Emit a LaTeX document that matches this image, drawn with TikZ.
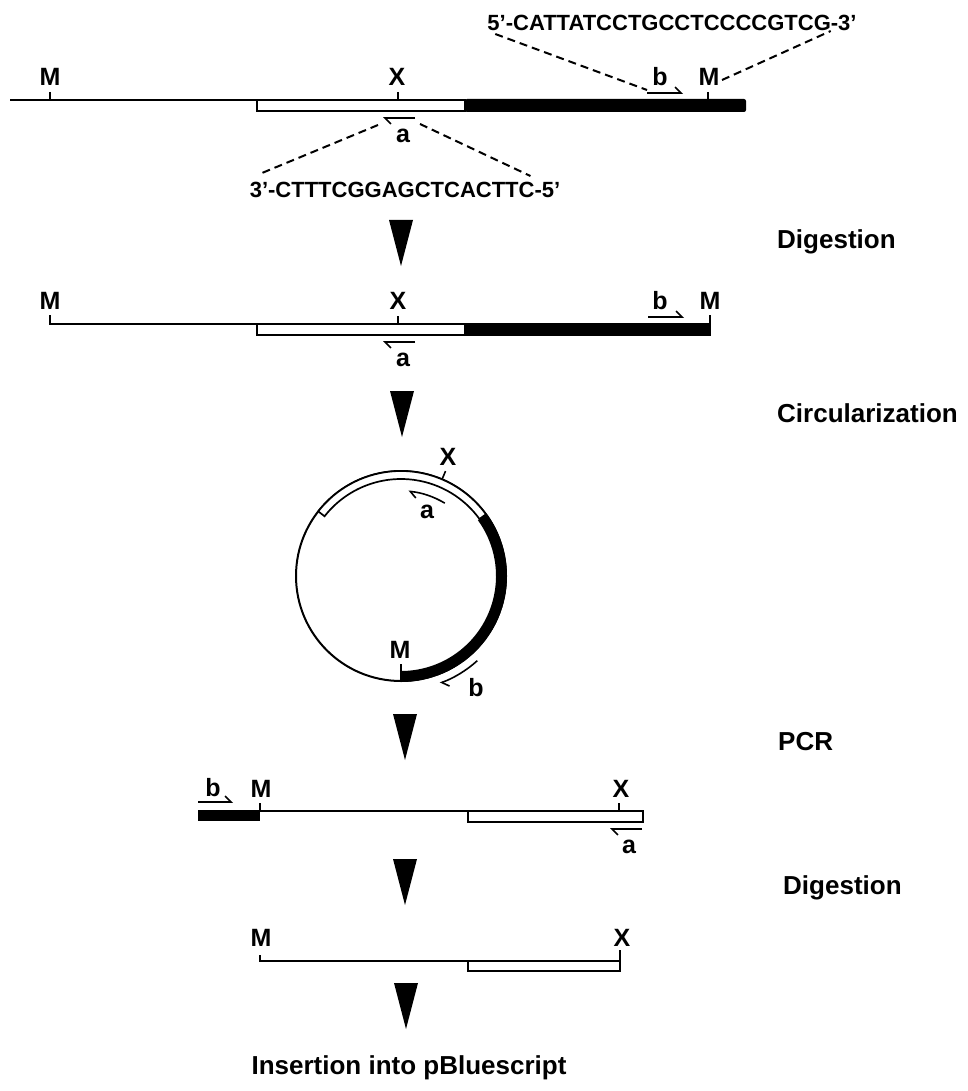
\documentclass[tikz,border=0pt]{standalone}
\usepackage{fontspec}
\setmainfont{Liberation Sans}
\usetikzlibrary{calc,arrows.meta}
\tikzset{
    dna/.style={line width=2pt},
    openseg/.style={line width=1.7pt,fill=white},
    cutsite/.style={line width=1.6pt},
    sitelbl/.style={font=\bfseries\fontsize{25}{25}\selectfont,inner sep=0pt},
    seqlbl/.style={font=\bfseries\fontsize{22}{22}\selectfont,inner sep=0pt},
    steplbl/.style={font=\bfseries\fontsize{26}{26}\selectfont,inner sep=0pt,anchor=west},
    primer/.style={line width=1.6pt,-{Straight Barb[left,length=6pt,width=12pt]}},
    guide/.style={line width=2pt,dash pattern=on 8pt off 5pt}
}
\begin{document}
\begin{tikzpicture}[x=1pt,y=-1pt]
    \useasboundingbox (0,0) rectangle (967,1091);
    % genomic fragment
    \draw[dna] (10,100) -- (465,100);
    \draw[openseg] (257,100) rectangle (465,111);
    \fill[rounded corners=2pt] (465,99) rectangle (746,112);
    \draw[cutsite] (50,92) -- (50,100) (398,92) -- (398,100) (708,92) -- (708,100);
    \node[sitelbl] (m1) at (50,77) {M};
    \node[sitelbl] (x1) at (397,77) {X};
    \node[sitelbl] (m2) at (709,77) {M};
    \node[sitelbl] (b1) at (660,77) {b};
    \node[sitelbl] (a1) at (403,136) {a};
    \draw[primer] (647,93) -- (683,93);
    \draw[primer] (415,118) -- (383,118);
    \node[seqlbl] (seqa) at (405,190) {3'-CTTTCGGAGCTCACTTC-5'};
    \node[seqlbl] (seqb) at (672,23) {5'-CATTATCCTGCCTCCCCGTCG-3'};
    \coordinate (pa1) at (378,125);
    \coordinate (pa2) at (420,124);
    \coordinate (pb1) at (647,90);
    \coordinate (pb2) at (722,80);
    \draw[guide] (pa1) -- ($(seqa.north west)+(10,-8)$);
    \draw[guide] (pa2) -- ($(seqa.north east)+(-30,-6)$);
    \draw[guide] ($(seqb.south west)+(8,3)$) -- (pb1);
    \draw[guide] (pb2) -- ($(seqb.south east)+(-26,0)$);
    % after digestion
    \draw[dna] (50,315) -- (50,324) -- (257,324);
    \draw[openseg] (257,324) rectangle (465,335);
    \fill (465,323) rectangle (710,336);
    \draw[cutsite] (398,316) -- (398,324) (710,315) -- (710,336);
    \node[sitelbl] (m3) at (50,301) {M};
    \node[sitelbl] (x2) at (398,301) {X};
    \node[sitelbl] (b2) at (660,301) {b};
    \node[sitelbl] (m4) at (710,301) {M};
    \node[sitelbl] (a2) at (403,360) {a};
    \draw[primer] (648,317) -- (684,317);
    \draw[primer] (415,342) -- (383,342);
    % circle
    \coordinate (C) at (401,576);
    \draw[dna] (C) circle[radius=105];
    \draw[openseg] ($(C)+(-36:105)$) arc[start angle=-36,end angle=-142,radius=105]
        -- ($(C)+(-142:97)$) arc[start angle=-142,end angle=-36,radius=97] -- cycle;
    \fill ($(C)+(90:106)$) arc[start angle=90,end angle=-36,radius=106]
        -- ($(C)+(-36:95)$) arc[start angle=-36,end angle=90,radius=95] -- cycle;
    \draw[cutsite] ($(C)+(-67:105)$) -- ($(C)+(-67:114)$);
    \draw[cutsite] ($(C)+(90:88)$) -- ($(C)+(90:105)$);
    \node[sitelbl] (x3) at (448,457) {X};
    \node[sitelbl] (m5) at (400,650) {M};
    \node[sitelbl] (a3) at (427,512) {a};
    \node[sitelbl] (b3) at (476,688) {b};
    \draw[primer] ($(C)+(-59:85)$) arc[start angle=-59,end angle=-85,radius=85];
    \draw[primer] ($(C)+(48:114)$) arc[start angle=48,end angle=70,radius=114];
    % PCR product
    \fill (198,810) rectangle (260,821);
    \draw[dna] (260,803) -- (260,811) -- (468,811);
    \draw[openseg] (468,811) rectangle (643,822);
    \draw[cutsite] (619,803) -- (619,811);
    \node[sitelbl] (b4) at (213,788) {b};
    \node[sitelbl] (m6) at (261,789) {M};
    \node[sitelbl] (x4) at (621,789) {X};
    \node[sitelbl] (a4) at (629,847) {a};
    \draw[primer] (198,802) -- (233,802);
    \draw[primer] (642,829) -- (610,829);
    % insert
    \draw[dna] (260,955) -- (260,961) -- (468,961);
    \draw[openseg] (468,961) rectangle (620,971);
    \draw[cutsite] (620,950) -- (620,961);
    \node[sitelbl] (m7) at (261,938) {M};
    \node[sitelbl] (x5) at (622,938) {X};
    % steps
    \foreach \tx/\ty in {401/220, 402/391, 405/714, 405/859, 406/983}
        \fill (\tx-12,\ty) -- (\tx+12,\ty) -- (\tx,\ty+46) -- cycle;
    \foreach \sx/\sy/\slbl/\n in {777/242/Digestion/1, 777/413/Circularization/2, 778/742/PCR/3, 783/888/Digestion/4}
        \node[steplbl] (step\n) at (\sx,\sy) {\slbl};
    \node[steplbl,anchor=center] (insert) at (409,1068) {Insertion into pBluescript};
\end{tikzpicture}
\end{document}
